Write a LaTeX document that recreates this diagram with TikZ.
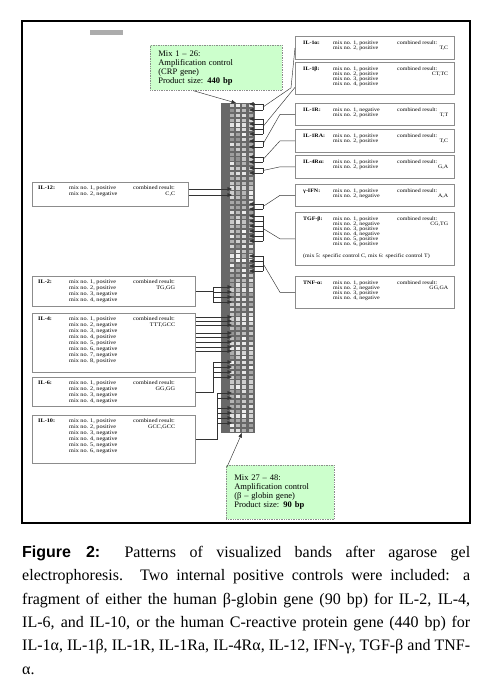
\documentclass[tikz,border=0pt]{standalone}
\usepackage{fontspec}
\setmainfont{Liberation Serif}
\setsansfont{Liberation Sans}
\newfontfamily\boxfont[FakeStretch=1.15]{Liberation Serif}
\usetikzlibrary{arrows.meta,positioning}
\definecolor{MixGreen}{HTML}{CCFFCC}
\definecolor{BoxGray}{HTML}{8C8C8C}
\definecolor{GelGray}{HTML}{686868}
\newcommand{\res}[1]{\makebox[\linewidth][r]{#1}}
\tolerance=10000
\hbadness=10000
\exhyphenpenalty=10000

\begin{document}
\begin{tikzpicture}[x=1pt,y=-1pt,
    rbox/.style={draw=BoxGray,line width=0.7pt,anchor=north west,inner sep=0pt,minimum width=159pt},
    lbox/.style={draw=BoxGray,line width=0.7pt,anchor=north west,inner sep=0pt,minimum width=163pt},
    rtxt/.style={anchor=north west,inner xsep=8pt,inner ysep=4.5pt,font=\boxfont\fontsize{5.2}{5}\selectfont},
    ltxt/.style={anchor=north west,inner xsep=6pt,inner ysep=3pt,font=\boxfont\fontsize{5.4}{6}\selectfont},
    mixbox/.style={draw=BoxGray,densely dotted,line width=0.7pt,fill=MixGreen,anchor=north west,
                   inner xsep=8pt,inner ysep=0pt,align=left,font=\fontsize{8.5}{9}\selectfont},
    wire/.style={line width=0.45pt,black!80},
    tip/.style={wire,-{Triangle[length=4.5pt,width=3.6pt]}}]
  \useasboundingbox (0,0) rectangle (492,696);
  \draw[line width=1.6pt] (22,21) rectangle (470,523);
  \fill[gray!65] (90,30) rectangle (123,35);

  % controls
  \node[mixbox,text width=116pt,minimum height=45pt] (crpmix) at (150,45)
    {Mix 1 -- 26:\\Amplification control\\(CRP gene)\\Product size: \textbf{440 bp}};
  \node[mixbox,text width=92pt,minimum height=54pt] (globmix) at (226,465)
    {Mix 27 -- 48:\\Amplification control\\(β -- globin gene)\\Product size: \textbf{90 bp}};

  % gel
  \node[fill=GelGray,anchor=north west,inner sep=0pt,minimum width=34pt,minimum height=330pt] (gel) at (221,103) {};
  \pgfmathsetseed{11}
  \foreach \r in {0,...,67}{
    \foreach \cx/\lo in {229.5/25,235.5/25,242/45,248.5/35}{
      \pgfmathsetmacro{\lv}{int(\lo+(95-\lo)*rnd)}
      \fill[white!\lv!GelGray] (\cx,{104+\r*4.85}) rectangle ++(4,3.2);
    }
  }
  \coordinate (gelN) at (236,103);
  \coordinate (gelS) at (242,433);
  \coordinate (rbar) at (263,0);
  \coordinate (rtip) at (249,0);
  \coordinate (lbar) at (213,0);
  \coordinate (lbarb) at (217,0);
  \coordinate (ltip) at (232,0);

  % right column
  \node[rbox,minimum height=23pt] (il1a) at (295,36) {};
  \node[rtxt] (il1a-t) at (il1a.north west) {\begin{tabular}{@{}p{30pt}@{}p{64pt}@{}p{51pt}@{}}
    \textbf{IL-1α:} & mix no. 1, positive & combined result:\\
    & mix no. 2, positive & \res{T,C}\end{tabular}};
  \node[rbox,minimum height=32pt] (il1b) at (295,62) {};
  \node[rtxt] (il1b-t) at (il1b.north west) {\begin{tabular}{@{}p{30pt}@{}p{64pt}@{}p{51pt}@{}}
    \textbf{IL-1β:} & mix no. 1, positive & combined result:\\
    & mix no. 2, positive & \res{CT,TC}\\
    & mix no. 3, positive & \\
    & mix no. 4, positive & \end{tabular}};
  \node[rbox,minimum height=22pt] (il1r) at (295,103) {};
  \node[rtxt] (il1r-t) at (il1r.north west) {\begin{tabular}{@{}p{30pt}@{}p{64pt}@{}p{51pt}@{}}
    \textbf{IL-1R:} & mix no. 1, negative & combined result:\\
    & mix no. 2, positive & \res{T,T}\end{tabular}};
  \node[rbox,minimum height=23pt] (il1ra) at (295,129) {};
  \node[rtxt] (il1ra-t) at (il1ra.north west) {\begin{tabular}{@{}p{30pt}@{}p{64pt}@{}p{51pt}@{}}
    \textbf{IL-1RA:} & mix no. 1, positive & combined result:\\
    & mix no. 2, positive & \res{T,C}\end{tabular}};
  \node[rbox,minimum height=23pt] (il4ra) at (295,155) {};
  \node[rtxt] (il4ra-t) at (il4ra.north west) {\begin{tabular}{@{}p{30pt}@{}p{64pt}@{}p{51pt}@{}}
    \textbf{IL-4Rα:} & mix no. 1, positive & combined result:\\
    & mix no. 2, positive & \res{G,A}\end{tabular}};
  \node[rbox,minimum height=22pt] (ifng) at (295,184) {};
  \node[rtxt] (ifng-t) at (ifng.north west) {\begin{tabular}{@{}p{30pt}@{}p{64pt}@{}p{51pt}@{}}
    \textbf{γ-IFN:} & mix no. 1, positive & combined result:\\
    & mix no. 2, negative & \res{A,A}\end{tabular}};
  \node[rbox,minimum height=53pt] (tgfb) at (295,212) {};
  \node[rtxt] (tgfb-t) at (tgfb.north west) {\begin{tabular}{@{}p{30pt}@{}p{64pt}@{}p{51pt}@{}}
    \textbf{TGF-β:} & mix no. 1, positive & combined result:\\
    & mix no. 2, negative & \res{CG,TG}\\
    & mix no. 3, positive & \\
    & mix no. 4, negative & \\
    & mix no. 5, positive & \\
    & mix no. 6, positive & \\[7pt]
    \multicolumn{3}{@{}l@{}}{(mix 5: specific control C, mix 6: specific control T)}\end{tabular}};
  \node[rbox,minimum height=32pt] (tnfa) at (295,276) {};
  \node[rtxt] (tnfa-t) at (tnfa.north west) {\begin{tabular}{@{}p{30pt}@{}p{64pt}@{}p{51pt}@{}}
    \textbf{TNF-α:} & mix no. 1, positive & combined result:\\
    & mix no. 2, negative & \res{GG,GA}\\
    & mix no. 3, positive & \\
    & mix no. 4, negative & \end{tabular}};

  % left column
  \node[lbox,minimum width=156pt,minimum height=24pt] (il12) at (32,182) {};
  \node[ltxt] (il12-t) at (il12.north west) {\begin{tabular}{@{}p{31pt}@{}p{64pt}@{}p{42pt}@{}}
    \textbf{IL-12:} & mix no. 1, positive & combined result:\\
    & mix no. 2, negative & \res{C,C}\end{tabular}};
  \node[lbox,minimum height=30pt] (il2) at (32,276) {};
  \node[ltxt] (il2-t) at (il2.north west) {\begin{tabular}{@{}p{31pt}@{}p{64pt}@{}p{42pt}@{}}
    \textbf{IL-2:} & mix no. 1, positive & combined result:\\
    & mix no. 2, positive & \res{TG,GG}\\
    & mix no. 3, negative & \\
    & mix no. 4, negative & \end{tabular}};
  \node[lbox,minimum height=59pt] (il4) at (32,313) {};
  \node[ltxt] (il4-t) at (il4.north west) {\begin{tabular}{@{}p{31pt}@{}p{64pt}@{}p{42pt}@{}}
    \textbf{IL-4:} & mix no. 1, positive & combined result:\\
    & mix no. 2, negative & \res{TTT,GCC}\\
    & mix no. 3, negative & \\
    & mix no. 4, positive & \\
    & mix no. 5, positive & \\
    & mix no. 6, negative & \\
    & mix no. 7, negative & \\
    & mix no. 8, positive & \end{tabular}};
  \node[lbox,minimum height=29pt] (il6) at (32,377) {};
  \node[ltxt] (il6-t) at (il6.north west) {\begin{tabular}{@{}p{31pt}@{}p{64pt}@{}p{42pt}@{}}
    \textbf{IL-6:} & mix no. 1, positive & combined result:\\
    & mix no. 2, negative & \res{GG,GG}\\
    & mix no. 3, negative & \\
    & mix no. 4, negative & \end{tabular}};
  \node[lbox,minimum height=48pt] (il10) at (32,415) {};
  \node[ltxt] (il10-t) at (il10.north west) {\begin{tabular}{@{}p{31pt}@{}p{64pt}@{}p{42pt}@{}}
    \textbf{IL-10:} & mix no. 1, positive & combined result:\\
    & mix no. 2, positive & \res{GCC,GCC}\\
    & mix no. 3, negative & \\
    & mix no. 4, negative & \\
    & mix no. 5, negative & \\
    & mix no. 6, negative & \end{tabular}};

  % control arrows
  \draw[tip] ([xshift=-23pt]crpmix.south) -- (gelN);
  \draw[tip] ([xshift=1pt,yshift=-2pt]globmix.north west) -- (gelS);

  % right fans
  \draw[wire] (il1a.west) -- ++(-4,40) -- (rbar |- 0,107);
  \draw[wire] (rbar |- 0,104) -- (rbar |- 0,110);
  \foreach \y in {104,110} \draw[tip] (rbar |- 0,\y) -- (rtip |- 0,\y);
  \draw[wire] ([yshift=-9pt]il1b.west) -- (rbar |- 0,126.5);
  \draw[wire] (rbar |- 0,119) -- (rbar |- 0,134);
  \foreach \y in {119,124,129,134} \draw[tip] (rbar |- 0,\y) -- (rtip |- 0,\y);
  \draw[wire] (il1r.west) -- ++(-15,0) -- (rbar |- 0,144);
  \draw[wire] (rbar |- 0,141) -- (rbar |- 0,147);
  \foreach \y in {141,147} \draw[tip] (rbar |- 0,\y) -- (rtip |- 0,\y);
  \draw[wire] (il1ra.west) -- ++(-15,0) -- (rbar |- 0,159.5);
  \draw[wire] (rbar |- 0,157) -- (rbar |- 0,162);
  \foreach \y in {157,162} \draw[tip] (rbar |- 0,\y) -- (rtip |- 0,\y);
  \draw[wire] (il4ra.west) -- ++(-15,0) -- (rbar |- 0,170.5);
  \draw[wire] (rbar |- 0,168) -- (rbar |- 0,173);
  \foreach \y in {168,173} \draw[tip] (rbar |- 0,\y) -- (rtip |- 0,\y);
  \draw[wire] (ifng.west) -- ++(-15,0) -- (rbar |- 0,206.5);
  \draw[wire] (rbar |- 0,204) -- (rbar |- 0,209);
  \foreach \y in {204,209} \draw[tip] (rbar |- 0,\y) -- (rtip |- 0,\y);
  \draw[wire] (tgfb.west) -- ++(-15,0) -- (rbar |- 0,228.5);
  \draw[wire] (rbar |- 0,216) -- (rbar |- 0,241);
  \foreach \y in {216,221,226,231,236,241} \draw[tip] (rbar |- 0,\y) -- (rtip |- 0,\y);
  \draw[wire] (tnfa.west) -- ++(-15,0) -- (rbar |- 0,263.5);
  \draw[wire] (rbar |- 0,256) -- (rbar |- 0,271);
  \foreach \y in {256,261,266,271} \draw[tip] (rbar |- 0,\y) -- (rtip |- 0,\y);

  % left fans
  \foreach \y in {189,195} \draw[tip] (il12.east |- 0,\y) -- (ltip |- 0,\y);
  \draw[wire] (il2.east) -- (lbar |- il2.east);
  \draw[wire] (lbar |- 0,287) -- (lbar |- 0,302);
  \foreach \y in {287,292,297,302} \draw[tip] (lbar |- 0,\y) -- (ltip |- 0,\y);
  \foreach \y in {317,321,325,333,337,342,347,351} \draw[tip] (il4.east |- 0,\y) -- (ltip |- 0,\y);
  \draw[wire] (il6.east) -- (lbar |- il6.east) -- (lbar |- 0,362);
  \foreach \y in {362,367,372,377} \draw[tip] (lbar |- 0,\y) -- (ltip |- 0,\y);
  \draw[wire] (il10.east) -- (lbarb |- il10.east) -- (lbarb |- 0,393);
  \foreach \y in {393,398,408,413,418,423} \draw[tip] (lbarb |- 0,\y) -- (ltip |- 0,\y);

  % caption
  \node[anchor=north west,text width=448pt,inner sep=0pt,align=justify,
        font=\fontsize{16}{23.4}\selectfont] (caption) at (22,545.5)
    {\textsf{\bfseries Figure 2:} Patterns of visualized bands after agarose gel\linebreak
     electrophoresis. Two internal positive controls were included: a\linebreak
     fragment of either the human β-globin gene (90 bp) for IL-2, IL-4,\linebreak
     IL-6, and IL-10, or the human C-reactive protein gene (440 bp) for\linebreak
     IL-1α, IL-1β, IL-1R, IL-1Ra, IL-4Rα, IL-12, IFN-γ, TGF-β and TNF-\linebreak
     α.};
\end{tikzpicture}
\end{document}
